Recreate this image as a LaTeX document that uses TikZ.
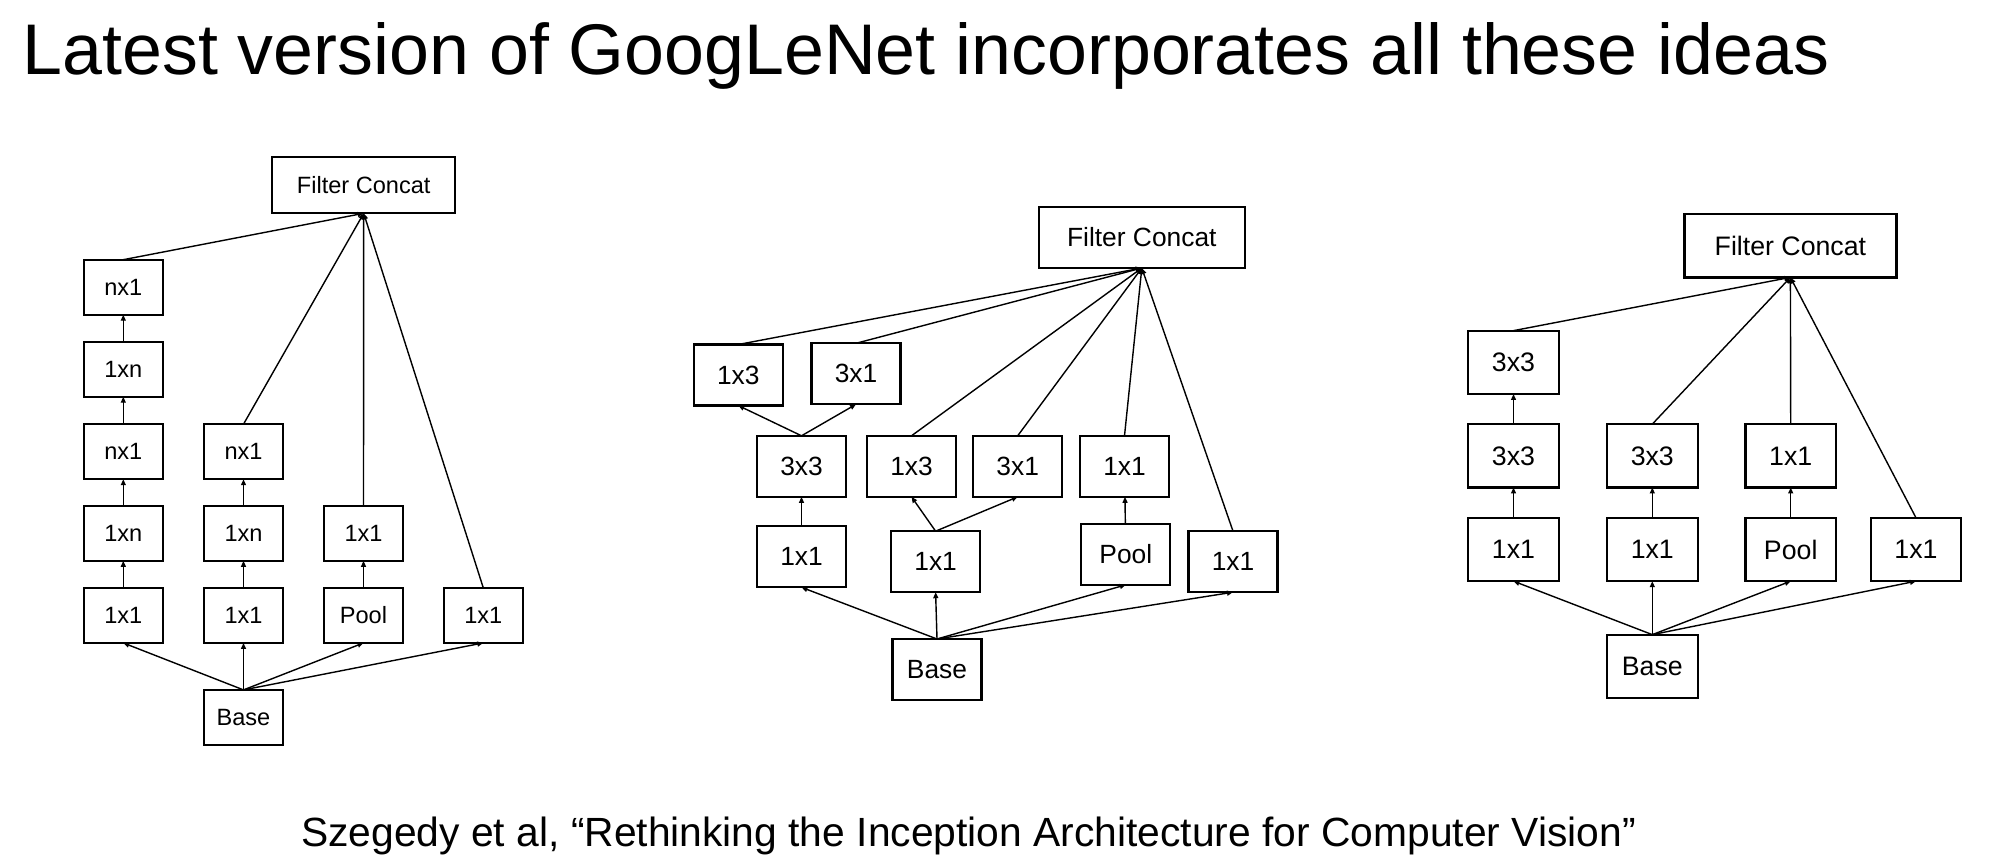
\documentclass[tikz,border=0pt]{standalone}
\usepackage{fontspec}
\setmainfont{Liberation Sans}
\usetikzlibrary{arrows.meta}
\begin{document}
\begin{tikzpicture}[x=0.01cm,y=-0.01cm,
  blk/.style={draw=black, line width=0.65pt, rectangle, inner sep=0pt, outer sep=0pt},
  boxA/.style={blk, minimum width=0.79cm, minimum height=0.55cm, font=\fontsize{6.7}{8}\selectfont},
  boxB/.style={blk, minimum width=0.89cm, minimum height=0.61cm, font=\fontsize{7.5}{9}\selectfont},
  boxC/.style={blk, minimum width=0.906cm, minimum height=0.633cm, font=\fontsize{7.6}{9}\selectfont},
  arr/.style={line width=0.4pt, -{Triangle[length=1.7pt,width=1.4pt]}}]
\useasboundingbox (0,0) rectangle (2000,866);

% heading and reference line
\node[anchor=base west, inner sep=0pt, font=\fontsize{20.4}{24}\selectfont] (title) at (22,74)
  {Latest version of GoogLeNet incorporates all these ideas};
\node[anchor=base west, inner sep=0pt, font=\fontsize{11.6}{14}\selectfont] (cite) at (300.5,846)
  {Szegedy et al, “Rethinking the Inception Architecture for Computer Vision”};

% ---------- module with n x n factorised into 1xn / nx1 ----------
\node[boxA, minimum width=1.83cm, minimum height=0.56cm] (afc) at (363.7,185.3) {Filter Concat};
\node[boxA] (al5) at (123.3,287.2) {nx1};
\node[boxA] (al4) at (123.3,369.2) {1xn};
\node[boxA] (al3) at (123.3,451.7) {nx1};
\node[boxA] (al2) at (123.3,533.3) {1xn};
\node[boxA] (al1) at (123.3,615.4) {1x1};
\node[boxA] (am3) at (243.5,451.7) {nx1};
\node[boxA] (am2) at (243.5,533.3) {1xn};
\node[boxA] (am1) at (243.5,615.4) {1x1};
\node[boxA] (ap2) at (363.5,533.3) {1x1};
\node[boxA] (ap1) at (363.5,615.4) {Pool};
\node[boxA] (ar1) at (483.3,615.4) {1x1};
\node[boxA] (abase) at (243.5,717.4) {Base};

\draw[arr] (abase.north) -- (al1.south);
\draw[arr] (abase.north) -- (am1.south);
\draw[arr] (abase.north) -- (ap1.south);
\draw[arr] (abase.north) -- (ar1.south);
\draw[arr] (al1) -- (al2);
\draw[arr] (al2) -- (al3);
\draw[arr] (al3) -- (al4);
\draw[arr] (al4) -- (al5);
\draw[arr] (am1) -- (am2);
\draw[arr] (am2) -- (am3);
\draw[arr] (ap1) -- (ap2);
\draw[arr] (al5.north) -- (afc.south);
\draw[arr] (am3.north) -- (afc.south);
\draw[arr] (ap2.north) -- (afc.south);
\draw[arr] (ar1.north) -- (afc.south);

% ---------- module with expanded filter bank outputs ----------
\node[boxB, minimum width=2.056cm, minimum height=0.61cm] (bfc) at (1141.8,237.5) {Filter Concat};
\node[boxB] (bt1) at (738.3,375) {1x3};
\node[boxB] (bt2) at (856,373.8) {3x1};
\node[boxB] (bs1) at (801.5,466.3) {3x3};
\node[boxB] (bs2) at (911.5,466.3) {1x3};
\node[boxB] (bs3) at (1017.7,466.3) {3x1};
\node[boxB] (bs4) at (1124.5,466.3) {1x1};
\node[boxB] (bq1) at (801.5,556.8) {1x1};
\node[boxB] (bq2) at (935.6,561.7) {1x1};
\node[boxB] (bq3) at (1125.8,554.3) {Pool};
\node[boxB] (bq4) at (1233,561.7) {1x1};
\node[boxB] (bbase) at (937,669.5) {Base};

\draw[arr] (bbase.north) -- (bq1.south);
\draw[arr] (bbase.north) -- (bq2.south);
\draw[arr] (bbase.north) -- (bq3.south);
\draw[arr] (bbase.north) -- (bq4.south);
\draw[arr] (bq1) -- (bs1);
\draw[arr] (bq2.north) -- (bs2.south);
\draw[arr] (bq2.north) -- (bs3.south);
\draw[arr] (bq3) -- (bs4);
\draw[arr] (bs1.north) -- (bt1.south);
\draw[arr] (bs1.north) -- (bt2.south);
\draw[arr] (bt1.north) -- (bfc.south);
\draw[arr] (bt2.north) -- (bfc.south);
\draw[arr] (bs2.north) -- (bfc.south);
\draw[arr] (bs3.north) -- (bfc.south);
\draw[arr] (bs4.north) -- (bfc.south);
\draw[arr] (bq4.north) -- (bfc.south);

% ---------- module with 5x5 replaced by two 3x3 ----------
\node[boxC, minimum width=2.118cm, minimum height=0.633cm] (cfc) at (1790.4,245.7) {Filter Concat};
\node[boxC] (cl3) at (1513.5,362.3) {3x3};
\node[boxC] (cl2) at (1513.5,455.8) {3x3};
\node[boxC] (cl1) at (1513.5,549.5) {1x1};
\node[boxC] (cm2) at (1652.3,455.8) {3x3};
\node[boxC] (cm1) at (1652.3,549.5) {1x1};
\node[boxC] (cp2) at (1790.7,455.8) {1x1};
\node[boxC] (cp1) at (1790.7,549.5) {Pool};
\node[boxC] (cr1) at (1916,549.5) {1x1};
\node[boxC] (cbase) at (1652.3,666.3) {Base};

\draw[arr] (cbase.north) -- (cl1.south);
\draw[arr] (cbase.north) -- (cm1.south);
\draw[arr] (cbase.north) -- (cp1.south);
\draw[arr] (cbase.north) -- (cr1.south);
\draw[arr] (cl1) -- (cl2);
\draw[arr] (cl2) -- (cl3);
\draw[arr] (cm1) -- (cm2);
\draw[arr] (cp1) -- (cp2);
\draw[arr] (cl3.north) -- (cfc.south);
\draw[arr] (cm2.north) -- (cfc.south);
\draw[arr] (cp2.north) -- (cfc.south);
\draw[arr] (cr1.north) -- (cfc.south);
\end{tikzpicture}
\end{document}
